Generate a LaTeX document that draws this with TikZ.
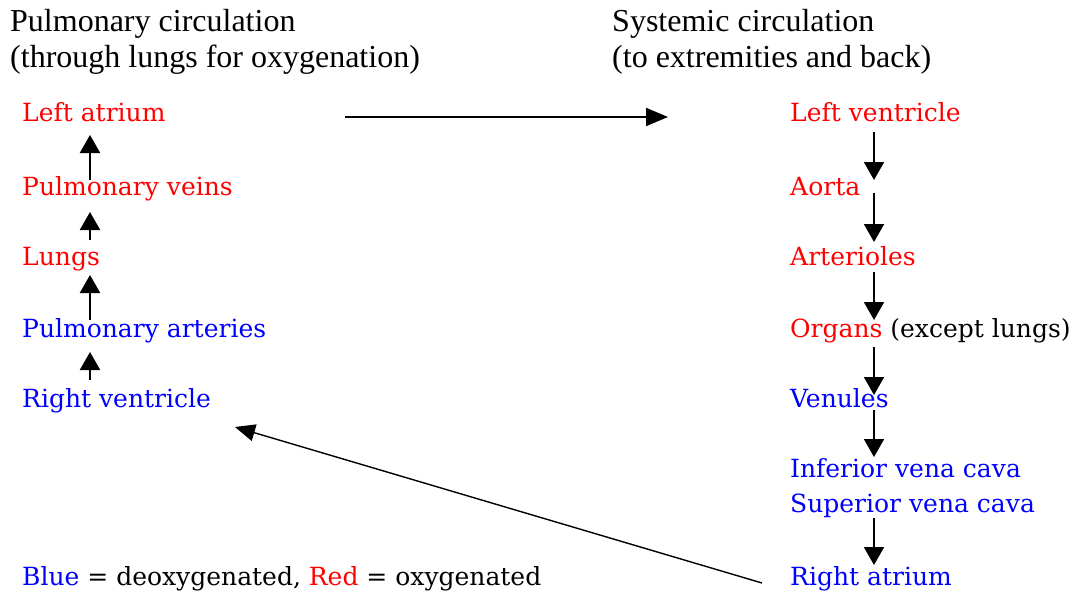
\documentclass[tikz,border=0pt]{standalone}
\usepackage{fontspec}
\setmainfont{Liberation Serif}
\newfontfamily\bodyfont{DejaVu Serif}
\usepackage{tikz}
\usetikzlibrary{arrows.meta, positioning}
\definecolor{oxyred}{RGB}{255,0,0}
\definecolor{deoxyblue}{RGB}{0,0,255}
\tikzstyle{organ} = [anchor=base west, inner sep=0pt,
    font=\bodyfont\fontsize{25}{25}\selectfont]
\tikzstyle{oxy} = [organ, text=oxyred]
\tikzstyle{deoxy} = [organ, text=deoxyblue]
\tikzstyle{heading} = [anchor=base west, inner sep=0pt,
    font=\fontsize{32}{36}\selectfont]
\tikzstyle{flow} = [line width=2pt, -{Triangle[width=20pt,length=18pt]}]
\tikzstyle{longflow} = [line width=2pt, -{Triangle[width=18pt,length=22pt]}]
\tikzstyle{returnflow} = [line width=1.4pt, -{Triangle[width=17pt,length=20pt]}]

\begin{document}
\begin{tikzpicture}[x=1pt, y=-1pt]
  \useasboundingbox (0,0) rectangle (1073,591);

  % Headings
  \node[heading](pulm) at (10,32){Pulmonary circulation};
  \node[heading](pulmsub) at (10,68){(through lungs for oxygenation)};
  \node[heading](syst) at (612,32){Systemic circulation};
  \node[heading](systsub) at (612,68){(to extremities and back)};

  % Pulmonary side
  \node[oxy](la) at (22,122){Left atrium};
  \node[oxy](pv) at (22,195){Pulmonary veins};
  \node[oxy](lu) at (22,265){Lungs};
  \node[deoxy](pa) at (22,337){Pulmonary arteries};
  \node[deoxy](rv) at (22,407){Right ventricle};

  \draw[flow]([shift={(68,-27)}]rv.base west)--([shift={(68,15)}]pa.base west);
  \draw[flow]([shift={(68,-17)}]pa.base west)--([shift={(68,10)}]lu.base west);
  \draw[flow]([shift={(68,-25)}]lu.base west)--([shift={(68,17)}]pv.base west);
  \draw[flow]([shift={(68,-15)}]pv.base west)--([shift={(68,13)}]la.base west);

  % Systemic side
  \node[oxy](lv) at (790,122){Left ventricle};
  \node[oxy](ao) at (790,195){Aorta};
  \node[oxy](ar) at (790,265){Arterioles};
  \node[organ](org) at (790,337){\textcolor{oxyred}{Organs} (except lungs)};
  \node[deoxy](ve) at (790,407){Venules};
  \node[deoxy](ivc) at (790,477){Inferior vena cava};
  \node[deoxy](svc) at (790,512){Superior vena cava};
  \node[deoxy](ra) at (790,585){Right atrium};

  \draw[flow]([shift={(84,10)}]lv.base west)--([shift={(84,-15)}]ao.base west);
  \draw[flow]([shift={(84,-2)}]ao.base west)--([shift={(84,-23)}]ar.base west);
  \draw[flow]([shift={(84,7)}]ar.base west)--([shift={(84,-17)}]org.base west);
  \draw[flow]([shift={(84,10)}]org.base west)--([shift={(84,-12)}]ve.base west);
  \draw[flow]([shift={(84,3)}]ve.base west)--([shift={(84,-20)}]ivc.base west);
  \draw[flow]([shift={(84,6)}]svc.base west)--([shift={(84,-20)}]ra.base west);

  % Crossing over
  \draw[longflow]([shift={(323,-5)}]la.base west)--([shift={(-122,-5)}]lv.base west);
  \draw[returnflow]([shift={(-28,-2)}]ra.base west)--([shift={(213,20)}]rv.base west);

  % Legend
  \node[organ](key) at (22,585)
    {\textcolor{deoxyblue}{Blue} = deoxygenated, \textcolor{oxyred}{Red} = oxygenated};
\end{tikzpicture}
\end{document}
